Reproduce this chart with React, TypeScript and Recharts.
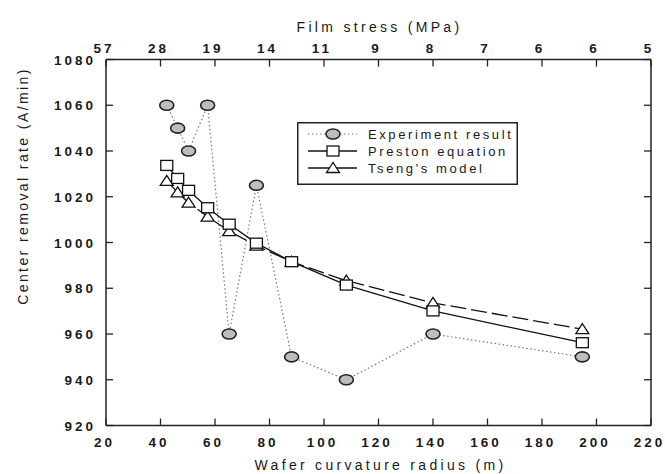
import React from 'react';
import { LineChart, Line, XAxis, YAxis, Legend } from 'recharts';

// Wafer curvature radius (m) for each measured wafer
const radius = [42.3, 46.3, 50.3, 57.3, 65.2, 75.2, 88.1, 108.2, 140, 194.8];
// Center removal rate (A/min)
const experiment = [1060, 1050, 1040, 1060, 960, 1025, 950, 940, 960, 950];
const preston = [1033.7, 1028, 1022.8, 1015.2, 1008, 999.7, 991.6, 981.4, 970.1, 956.2];
const tseng = [1026.9, 1021.9, 1017.4, 1011.3, 1005, 998.6, 991.6, 983.3, 973.6, 962.1];

const radiusTicks = [20, 40, 60, 80, 100, 120, 140, 160, 180, 200, 220];
const stressLabels = ['57', '28', '19', '14', '11', '9', '8', '7', '6', '6', '5'];
const rateTicks = [920, 940, 960, 980, 1000, 1020, 1040, 1060, 1080];

const rows = radius.map((r, i) => ({
  radius: r,
  experiment: experiment[i],
  preston: preston[i],
  tseng: tseng[i],
}));

const FONT = '"Liberation Sans", Arial, Helvetica, sans-serif';
const INK = '#1a1a1a';
const AXIS = '#222';
const TICK_FONT = 13.5;
const TICK_SP = 3;
const TITLE_FONT = 14;
const TITLE_SP = 3.3;
const TICK_LEN = 7;

const BottomTick = (p: any) => {
  const { x, y, payload } = p;
  return (
    <g>
      <line x1={x} y1={y} x2={x} y2={y - TICK_LEN} stroke={AXIS} strokeWidth={1.3} />
      <text
        x={x - 3 + TICK_SP / 2}
        y={y + 21}
        textAnchor="middle"
        fontFamily={FONT}
        fontSize={TICK_FONT}
        fontWeight="bold"
        letterSpacing={TICK_SP}
        fill={INK}
      >
        {payload.value}
      </text>
    </g>
  );
};

const TopTick = (p: any) => {
  const { x, y, payload } = p;
  const idx = radiusTicks.indexOf(payload.value);
  return (
    <g>
      <line x1={x} y1={y} x2={x} y2={y + TICK_LEN} stroke={AXIS} strokeWidth={1.3} />
      <text
        x={x - 2}
        y={y - 7}
        textAnchor="middle"
        fontFamily={FONT}
        fontSize={TICK_FONT}
        fontWeight="bold"
        letterSpacing={TICK_SP}
        fill={INK}
      >
        {stressLabels[idx]}
      </text>
    </g>
  );
};

const LeftTick = (p: any) => {
  const { x, y, payload } = p;
  return (
    <g>
      <line x1={x} y1={y} x2={x + TICK_LEN} y2={y} stroke={AXIS} strokeWidth={1.3} />
      <text
        x={x - 13 + TICK_SP}
        y={y + 5}
        textAnchor="end"
        fontFamily={FONT}
        fontSize={TICK_FONT}
        fontWeight="bold"
        letterSpacing={TICK_SP}
        fill={INK}
      >
        {payload.value}
      </text>
    </g>
  );
};

const RightTick = (p: any) => {
  const { x, y } = p;
  return <line x1={x} y1={y} x2={x - TICK_LEN} y2={y} stroke={AXIS} strokeWidth={1.3} />;
};

const titleProps = {
  fontFamily: FONT,
  fontSize: TITLE_FONT,
  letterSpacing: TITLE_SP,
  fill: INK,
};

const BottomTitle = (p: any) => {
  const vb = p.viewBox;
  return (
    <text x={vb.x + vb.width / 2 + 2} y={470} textAnchor="middle" {...titleProps}>
      Wafer curvature radius (m)
    </text>
  );
};

const TopTitle = (p: any) => {
  const vb = p.viewBox;
  return (
    <text x={vb.x + vb.width / 2 + 1} y={31.5} textAnchor="middle" {...titleProps}>
      Film stress (MPa)
    </text>
  );
};

const LeftTitle = () => (
  <text
    x={0}
    y={0}
    transform="translate(28, 186) rotate(-90)"
    textAnchor="middle"
    {...titleProps}
    letterSpacing={2.4}
  >
    Center removal rate (A/min)
  </text>
);

const ExperimentDot = (p: any) => (
  <ellipse
    key={`exp-${p.index}`}
    cx={p.cx}
    cy={p.cy}
    rx={7}
    ry={5}
    fill="#bdbdbd"
    stroke="#222"
    strokeWidth={1.6}
  />
);

const SquareDot = (p: any) => (
  <rect
    key={`pre-${p.index}`}
    x={p.cx - 6}
    y={p.cy - 5}
    width={12}
    height={10}
    fill="#fff"
    stroke="#111"
    strokeWidth={1.3}
  />
);

const TriangleDot = (p: any) => (
  <polygon
    key={`tse-${p.index}`}
    points={`${p.cx},${p.cy - 5.5} ${p.cx - 6.5},${p.cy + 4.5} ${p.cx + 6.5},${p.cy + 4.5}`}
    fill="#fff"
    stroke="#111"
    strokeWidth={1.3}
  />
);

const legendRows = [
  { name: 'Experiment result', kind: 'exp' },
  { name: 'Preston equation', kind: 'pre' },
  { name: "Tseng's model", kind: 'tse' },
];

const LegendBox = () => (
  <svg width={221} height={63} style={{ display: 'block' }}>
    <rect x={0.75} y={0.75} width={219.5} height={61.5} fill="#fff" stroke="#222" strokeWidth={1.5} />
    {legendRows.map((r, i) => {
      const cy = 12 + i * 17;
      const cx = 36;
      return (
        <g key={r.kind}>
          {r.kind === 'exp' ? (
            <line x1={11} y1={cy} x2={60} y2={cy} stroke="#777" strokeWidth={1.2} strokeDasharray="1.5 2.5" />
          ) : (
            <line x1={11} y1={cy} x2={60} y2={cy} stroke="#111" strokeWidth={1.3} />
          )}
          {r.kind === 'exp' && <ExperimentDot cx={cx} cy={cy} index={0} />}
          {r.kind === 'pre' && <SquareDot cx={cx} cy={cy} index={0} />}
          {r.kind === 'tse' && <TriangleDot cx={cx} cy={cy} index={0} />}
          <text
            x={71}
            y={cy + 4.5}
            fontFamily={FONT}
            fontSize={13}
            letterSpacing={2.6}
            fill={INK}
          >
            {r.name}
          </text>
        </g>
      );
    })}
  </svg>
);

export default function App() {
  return (
    <div style={{ position: 'absolute', left: 0, top: 0, background: '#fff' }}>
      <LineChart width={665} height={474} data={rows} margin={{ top: 0, right: 0, bottom: 0, left: 0 }}>
        <XAxis
          xAxisId="bottom"
          dataKey="radius"
          type="number"
          domain={[20, 220]}
          allowDataOverflow
          ticks={radiusTicks}
          interval={0}
          tickSize={0}
          tickMargin={0}
          tickLine={false}
          tick={BottomTick}
          axisLine={{ stroke: AXIS, strokeWidth: 1.5 }}
          height={48.5}
          label={{ content: BottomTitle }}
        />
        <XAxis
          xAxisId="top"
          orientation="top"
          dataKey="radius"
          type="number"
          domain={[20, 220]}
          allowDataOverflow
          ticks={radiusTicks}
          interval={0}
          tickSize={0}
          tickMargin={0}
          tickLine={false}
          tick={TopTick}
          axisLine={{ stroke: AXIS, strokeWidth: 1.5 }}
          height={59.5}
          label={{ content: TopTitle }}
        />
        <YAxis
          yAxisId="left"
          type="number"
          domain={[920, 1080]}
          allowDataOverflow
          ticks={rateTicks}
          interval={0}
          tickSize={0}
          tickMargin={0}
          tickLine={false}
          tick={LeftTick}
          axisLine={{ stroke: AXIS, strokeWidth: 1.5 }}
          width={106}
          label={{ content: LeftTitle }}
        />
        <YAxis
          yAxisId="right"
          orientation="right"
          type="number"
          domain={[920, 1080]}
          allowDataOverflow
          ticks={rateTicks}
          interval={0}
          tickSize={0}
          tickMargin={0}
          tickLine={false}
          tick={RightTick}
          axisLine={{ stroke: AXIS, strokeWidth: 1.5 }}
          width={14}
        />
        <Legend
          layout="vertical"
          align="center"
          verticalAlign="middle"
          content={LegendBox}
          wrapperStyle={{ left: 297, top: 122, width: 221, height: 63 }}
        />
        <Line
          xAxisId="bottom"
          yAxisId="left"
          type="linear"
          dataKey="experiment"
          stroke="#777"
          strokeWidth={1.2}
          strokeDasharray="1.5 2.5"
          dot={ExperimentDot}
          activeDot={false}
          isAnimationActive={false}
        />
        <Line
          xAxisId="bottom"
          yAxisId="left"
          type="linear"
          dataKey="tseng"
          stroke="#111"
          strokeWidth={1.3}
          strokeDasharray="16 5"
          dot={TriangleDot}
          activeDot={false}
          isAnimationActive={false}
        />
        <Line
          xAxisId="bottom"
          yAxisId="left"
          type="linear"
          dataKey="preston"
          stroke="#111"
          strokeWidth={1.3}
          dot={SquareDot}
          activeDot={false}
          isAnimationActive={false}
        />
      </LineChart>
    </div>
  );
}
